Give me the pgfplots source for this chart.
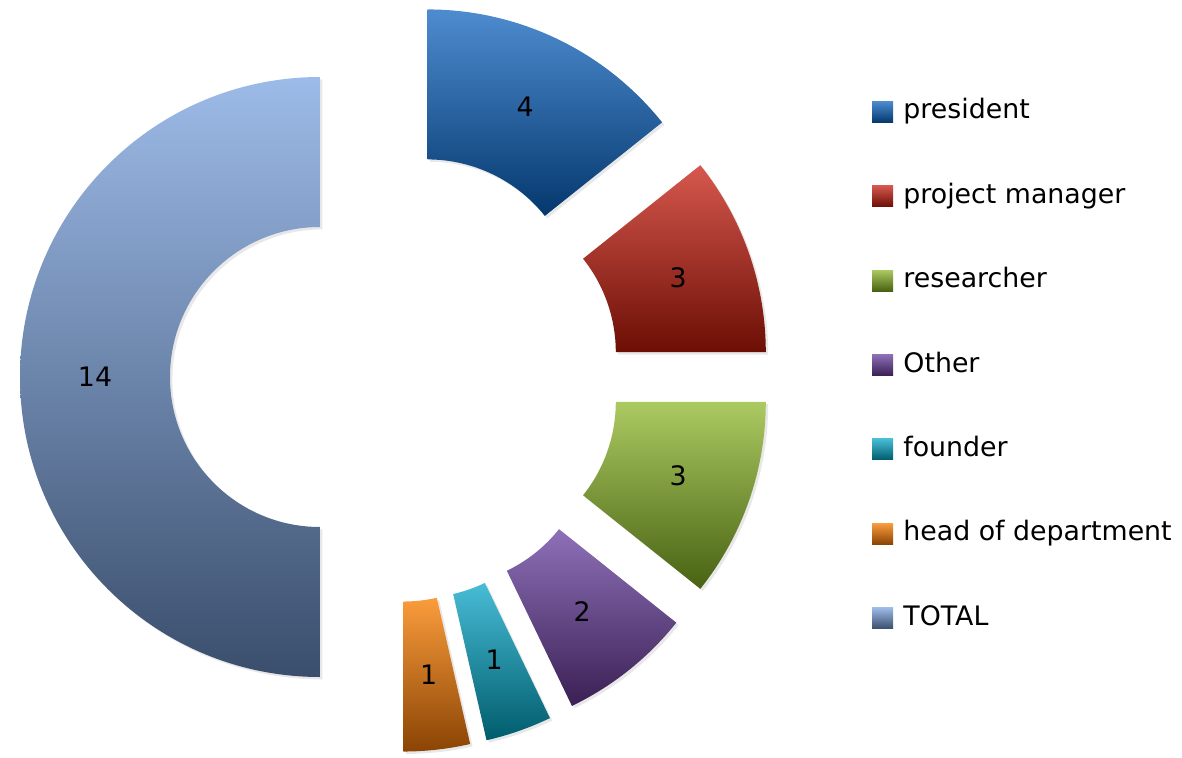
\documentclass[border=0pt]{standalone}
\usepackage{pgfplots}
\pgfplotsset{compat=1.18}
\usepackage{fontspec}
\setmainfont{DejaVu Sans}
\usetikzlibrary{shadows}
\definecolor{presT}{RGB}{78,140,208}
\definecolor{presB}{RGB}{4,56,110}
\definecolor{pmT}{RGB}{214,88,78}
\definecolor{pmB}{RGB}{108,14,4}
\definecolor{resT}{RGB}{172,202,98}
\definecolor{resB}{RGB}{72,98,18}
\definecolor{othT}{RGB}{142,112,184}
\definecolor{othB}{RGB}{58,32,84}
\definecolor{fouT}{RGB}{72,188,214}
\definecolor{fouB}{RGB}{0,92,108}
\definecolor{headT}{RGB}{250,156,60}
\definecolor{headB}{RGB}{138,68,4}
\definecolor{totT}{RGB}{157,187,232}
\definecolor{totB}{RGB}{58,78,108}
% #1 cumulative start, #2 value, #3 top colour, #4 bottom colour, #5 name
\newcommand{\donut}[5]{%
  \path (axis cs:197.5,190) ++({90-180/14*(#1+#2/2)}:37.5pt) coordinate (c#5);
  \shade[top color=#3, bottom color=#4,
    drop shadow={opacity=0.18, shadow xshift=1.2pt, shadow yshift=-1.2pt}]
    ([shift={({90-180/14*(#1)}:75pt)}]c#5)
    -- ([shift={({90-180/14*(#1)}:150pt)}]c#5)
    arc[start angle={90-180/14*(#1)}, end angle={90-180/14*(#1+#2)}, radius=150pt]
    -- ([shift={({90-180/14*(#1+#2)}:75pt)}]c#5)
    arc[start angle={90-180/14*(#1+#2)}, end angle={90-180/14*(#1)}, radius=75pt]
    -- cycle;
  \node[inner sep=0pt, font=\fontsize{13.4}{16}\selectfont]
    at ([shift={({90-180/14*(#1+#2/2)}:112.5pt)}]c#5) {#2};
}
% #1 row, #2 top, #3 bottom, #4 text
\newcommand{\legitem}[4]{%
  \shade[top color=#2, bottom color=#3]
    (axis cs:436,{322.65-42.2*#1-5.25}) rectangle (axis cs:446.5,{322.65-42.2*#1+5.25});
  \node[anchor=base west, inner sep=0pt, font=\fontsize{13.4}{16}\selectfont]
    at (axis cs:451.5,{322.65-42.2*#1-3.6}) {#4};
}
\begin{document}
\begin{tikzpicture}
\begin{axis}[
  x=1pt, y=1pt,
  xmin=0, xmax=591, ymin=0, ymax=378.5,
  hide axis, clip=false, scale only axis,
]
\path (axis cs:0,0) rectangle (axis cs:591,378.5);
\donut{0}{4}{presT}{presB}{a}
\donut{4}{3}{pmT}{pmB}{b}
\donut{7}{3}{resT}{resB}{c}
\donut{10}{2}{othT}{othB}{d}
\donut{12}{1}{fouT}{fouB}{e}
\donut{13}{1}{headT}{headB}{f}
\donut{14}{14}{totT}{totB}{g}
\legitem{0}{presT}{presB}{president}
\legitem{1}{pmT}{pmB}{project manager}
\legitem{2}{resT}{resB}{researcher}
\legitem{3}{othT}{othB}{Other}
\legitem{4}{fouT}{fouB}{founder}
\legitem{5}{headT}{headB}{head of department}
\legitem{6}{totT}{totB}{TOTAL}
\end{axis}
\end{tikzpicture}
\end{document}
